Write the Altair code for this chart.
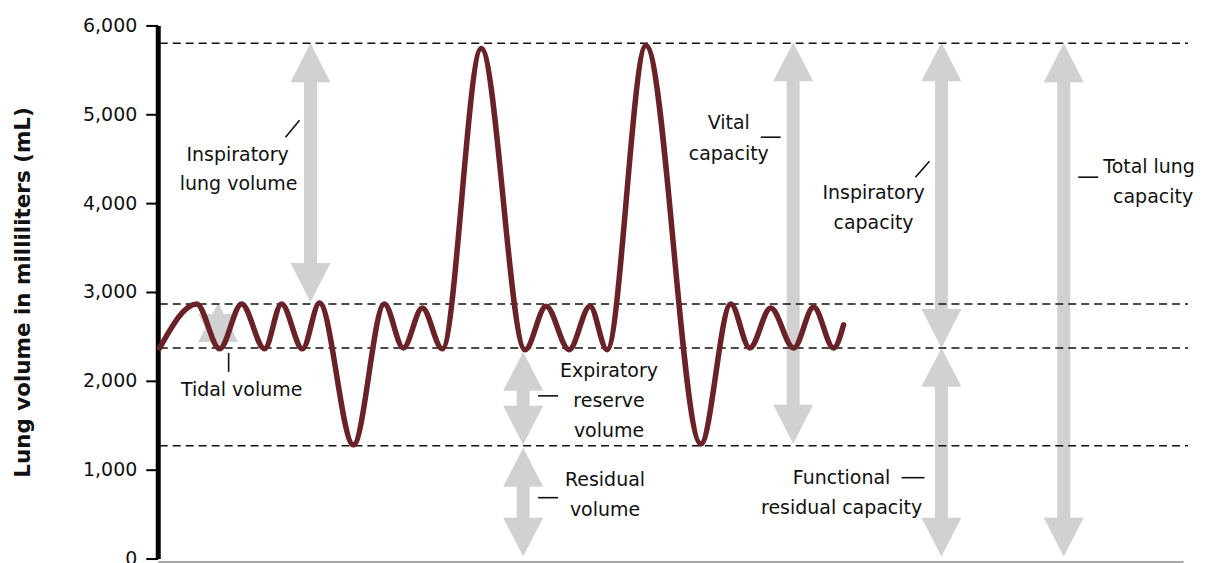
import altair as alt
import pandas as pd

# ---- data (time axis in arbitrary units, volume in mL) ----
curve_t = [2, 39, 62, 84, 107, 124, 145, 162, 196, 227, 246, 265, 285, 324, 368, 389,
           412, 433, 450, 489, 544, 574, 593, 614, 637, 657, 677, 687]
curve_ml = [2370, 2865, 2360, 2865, 2360, 2865, 2360, 2875, 1280, 2865, 2370, 2820, 2360,
            5740, 2350, 2840, 2350, 2840, 2350, 5775, 1290, 2865, 2370, 2820, 2370, 2830,
            2370, 2630]

levels_ml = [5800, 2865, 2370, 1270]
level_t_start = [2, 2, 2, 2]
level_t_end = [1032, 1032, 1032, 1032]

arrow_names = ["Tidal volume", "Inspiratory reserve", "Expiratory reserve", "Residual",
               "Vital capacity", "Inspiratory capacity", "Functional residual", "Total lung"]
arrow_t = [60.5, 153, 366, 366, 636.5, 785, 785, 907.5]
arrow_top = [2876, 5800, 2326, 1247, 5809, 5809, 2371, 5800]
arrow_bottom = [2315, 2888, 1281, 22, 1292, 2371, 22, 22]

label_text = ["Inspiratory", "lung volume", "Tidal volume", "Expiratory", "reserve", "volume",
              "Residual", "volume", "Vital", "capacity", "Inspiratory", "capacity",
              "Functional", "residual capacity", "Total lung", "capacity"]
label_t = [80, 81, 84, 452, 452, 452, 448, 448, 572, 572, 717, 717, 685, 685, 993, 997]
label_ml = [4539, 4213, 1899, 2112, 1775, 1438, 888, 551, 4899, 4551, 4112, 3775,
            910, 573, 4405, 4067]

leader_t1 = [128, 71, 381, 381, 604, 759, 745, 922]
leader_ml1 = [4742, 2315, 1831, 685, 4742, 4292, 910, 4292]
leader_t2 = [142, 71, 401, 401, 624, 773, 768, 942]
leader_ml2 = [4933, 2101, 1831, 685, 4742, 4472, 910, 4292]

# ---- tables ----
curve = pd.DataFrame({"t": curve_t, "ml": curve_ml})
levels = pd.DataFrame({"ml": levels_ml, "t0": level_t_start, "t1": level_t_end})
arrows = pd.DataFrame({"name": arrow_names, "t": arrow_t, "top": arrow_top, "bottom": arrow_bottom})
labels = pd.DataFrame({"text": label_text, "t": label_t, "ml": label_ml})
leaders = pd.DataFrame({"t1": leader_t1, "ml1": leader_ml1, "t2": leader_t2, "ml2": leader_ml2})

W, H = 1027, 534
FONT = "DejaVu Sans"
GREY = "#d1d0d2"

xs = alt.Scale(domain=[0, 1027], nice=False, zero=False)
ys = alt.Scale(domain=[0, 6000], nice=False)

x_axis = alt.Axis(title=None, labels=False, ticks=False, grid=False, domain=True,
                  domainColor="#8a8a8a", domainWidth=1.5, offset=3)
y_axis = alt.Axis(title="Lung volume in milliliters (mL)", values=[0, 1000, 2000, 3000, 4000, 5000, 6000],
                  format=",d", grid=False, domainColor="black", domainWidth=5,
                  tickColor="black", tickSize=12, tickWidth=2, labelPadding=9,
                  labelFont=FONT, labelFontSize=19, labelColor="#111111",
                  titleFont=FONT, titleFontSize=21.5, titleFontWeight="bold", titleColor="#111111",
                  titlePadding=48)

base_x = alt.X("t:Q", scale=xs, axis=x_axis)

shafts = alt.Chart(arrows).mark_rule(color=GREY, strokeWidth=13, yOffset=38, y2Offset=-38).encode(
    x=base_x,
    y=alt.Y("top:Q", scale=ys, axis=y_axis),
    y2="bottom:Q",
)
up_heads = alt.Chart(arrows).mark_point(shape="M0,0L1,1.95L-1,1.95Z", size=1600, filled=True,
                                        color=GREY, opacity=1, strokeWidth=0).encode(
    x="t:Q", y="top:Q")
down_heads = alt.Chart(arrows).mark_point(shape="M0,0L1,-1.95L-1,-1.95Z", size=1600, filled=True,
                                          color=GREY, opacity=1, strokeWidth=0).encode(
    x="t:Q", y="bottom:Q")

dashed = alt.Chart(levels).mark_rule(color="#111111", strokeWidth=1.5, strokeDash=[8, 5]).encode(
    x="t0:Q", x2="t1:Q", y="ml:Q")

line = alt.Chart(curve).mark_line(interpolate="monotone", color="#6b2226", strokeWidth=5.5,
                                  strokeCap="round", strokeJoin="round").encode(
    x="t:Q", y="ml:Q")

leader = alt.Chart(leaders).mark_rule(color="#111111", strokeWidth=1.6).encode(
    x="t1:Q", x2="t2:Q", y="ml1:Q", y2="ml2:Q")

texts = alt.Chart(labels).mark_text(font=FONT, fontSize=19, align="center", baseline="middle",
                                    color="#111111").encode(
    x="t:Q", y="ml:Q", text="text:N")

chart = alt.layer(shafts, up_heads, down_heads, dashed, line, leader, texts).properties(
    width=W, height=H,
    background="white",
    padding={"left": 150, "top": 17, "right": 20, "bottom": 4},
    autosize=alt.AutoSizeParams(type="none"),
).configure_view(stroke="transparent", strokeWidth=0)

chart.save("out.html", embed_options={"renderer": "svg", "actions": False})
